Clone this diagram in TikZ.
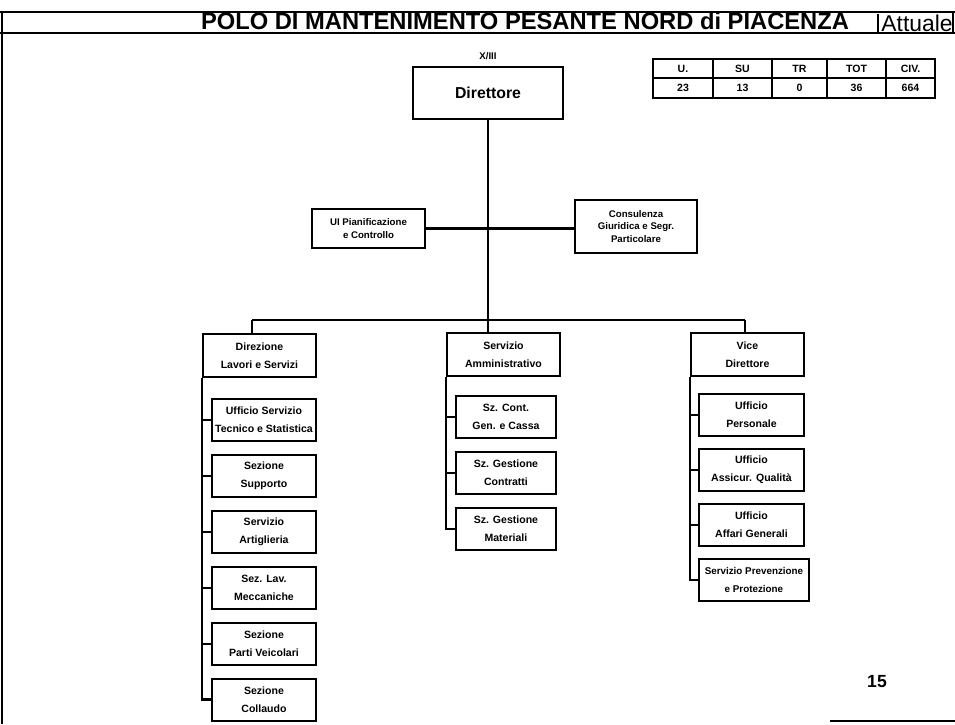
\documentclass[tikz,border=0pt]{standalone}
\usepackage{fontspec}
\setmainfont{Liberation Sans}
\usetikzlibrary{positioning}

\tikzset{
  unitbox/.style={draw, line width=1.1pt, align=center, inner sep=1pt,
    font=\bfseries\fontsize{6}{10}\selectfont},
  headbox/.style={unitbox, minimum width=2.26cm, minimum height=0.86cm, anchor=north west},
  subbox/.style={unitbox, minimum width=2.08cm, minimum height=0.84cm},
  staffbox/.style={unitbox, font=\bfseries\fontsize{5.5}{7}\selectfont},
  link/.style={line width=1.3pt},
}

\begin{document}
\begin{tikzpicture}[x=0.02cm, y=-0.02cm, node distance=0.24cm]
\useasboundingbox (0,0) rectangle (955,724);

% frame and title
\draw[line width=1.2pt] (0,12) -- (955,12);
\draw[line width=1.2pt] (0,33) -- (955,33);
\draw[line width=1.2pt] (2,12) -- (2,724);
\draw[line width=1.2pt] (953,12) -- (953,33);
\draw[line width=1.2pt] (878,14) -- (878,33);
\draw[line width=1.2pt] (830,721) -- (955,721);
\node (title) at (525,23) {\bfseries\fontsize{13.5}{14}\selectfont\underline{POLO DI MANTENIMENTO PESANTE NORD di PIACENZA}};
\node (attuale) at (917,23) {\fontsize{13}{14}\selectfont Attuale};

% direttore
\node (dir) [unitbox, minimum width=3cm, minimum height=1.04cm, font=\bfseries\fontsize{9}{11}\selectfont] at (488,93) {Direttore};
\node (grado) [font=\bfseries\fontsize{5.5}{6}\selectfont, above=0pt of dir] {X/III};

% forza organica
\foreach \xa/\xb/\head/\val in {653/713/U./23, 713/772/SU/13, 772/827/TR/0, 827/886/TOT/36, 886/935/CIV./664} {
  \draw[line width=1.1pt] (\xa,59) rectangle (\xb,78);
  \draw[line width=1.1pt] (\xa,78) rectangle (\xb,98);
  \node[font=\bfseries\fontsize{6}{7}\selectfont] at ({(\xa+\xb)/2},68.5) {\head};
  \node[font=\bfseries\fontsize{6}{7}\selectfont] at ({(\xa+\xb)/2},88) {\val};
}

% staff
\node (ui) [staffbox, minimum width=2.26cm, minimum height=0.78cm] at (368.5,228.5) {UI Pianificazione\\e Controllo};
\node (cons) [staffbox, minimum width=2.44cm, minimum height=1.06cm] at (636,226.5) {Consulenza\\Giuridica e Segr.\\Particolare};

% livello servizi
\coordinate (busL) at (252,320);
\coordinate (busR) at (745,320);
\node (dl) [headbox] at (202,333) {Direzione\\Lavori e Servizi};
\node (sa) [headbox] at (446,332) {Servizio\\Amministrativo};
\node (vd) [headbox] at (690,332) {Vice\\Direttore};

% direzione lavori
\node (ust) [subbox, anchor=north west] at (211,398) {Ufficio Servizio\\Tecnico e Statistica};
\node (sup) [subbox, below=of ust] {Sezione\\Supporto};
\node (art) [subbox, below=of sup] {Servizio\\Artiglieria};
\node (mec) [subbox, below=of art] {Sez. Lav.\\Meccaniche};
\node (vei) [subbox, below=of mec] {Sezione\\Parti Veicolari};
\node (col) [subbox, below=of vei] {Sezione\\Collaudo};

% servizio amministrativo
\node (cge) [subbox, minimum width=2cm, anchor=north west] at (455,395) {Sz. Cont.\\Gen. e Cassa};
\node (gco) [subbox, minimum width=2cm, below=of cge] {Sz. Gestione\\Contratti};
\node (gma) [subbox, minimum width=2cm, below=of gco] {Sz. Gestione\\Materiali};

% vice direttore
\node (per) [subbox, minimum width=2.1cm, anchor=north west] at (698,393) {Ufficio\\Personale};
\node (aqu) [subbox, minimum width=2.1cm, below=0.22cm of per] {Ufficio\\Assicur. Qualità};
\node (agn) [subbox, minimum width=2.1cm, below=0.22cm of aqu] {Ufficio\\Affari Generali};
\node (spp) [subbox, minimum width=2.2cm, below=0.22cm of agn.south west, anchor=north west,
  font=\bfseries\fontsize{5.6}{10}\selectfont] {Servizio Prevenzione\\e Protezione};

\node (pag) [font=\bfseries\fontsize{10}{12}\selectfont] at (877,682) {15};

% collegamenti
\draw[link] (dir.south) -- (dir.south |- sa.north);
\draw[link] (ui.east) -- (ui.east -| cons.west);
\draw[link] (busL) -- (busR);
\draw[link] (busL) -- (busL |- dl.north);
\draw[link] (busR) -- (busR |- vd.north);

\draw[link] (dl.south west) -- (dl.south west |- col.west) -- (col.west);
\foreach \s in {ust,sup,art,mec,vei}
  \draw[link] (dl.south west |- \s.west) -- (\s.west);

\draw[link] (sa.south west) -- (sa.south west |- gma.west) -- (gma.west);
\foreach \s in {cge,gco}
  \draw[link] (sa.south west |- \s.west) -- (\s.west);

\draw[link] (vd.south west) -- (vd.south west |- spp.west) -- (spp.west);
\foreach \s in {per,aqu,agn}
  \draw[link] (vd.south west |- \s.west) -- (\s.west);
\end{tikzpicture}
\end{document}
